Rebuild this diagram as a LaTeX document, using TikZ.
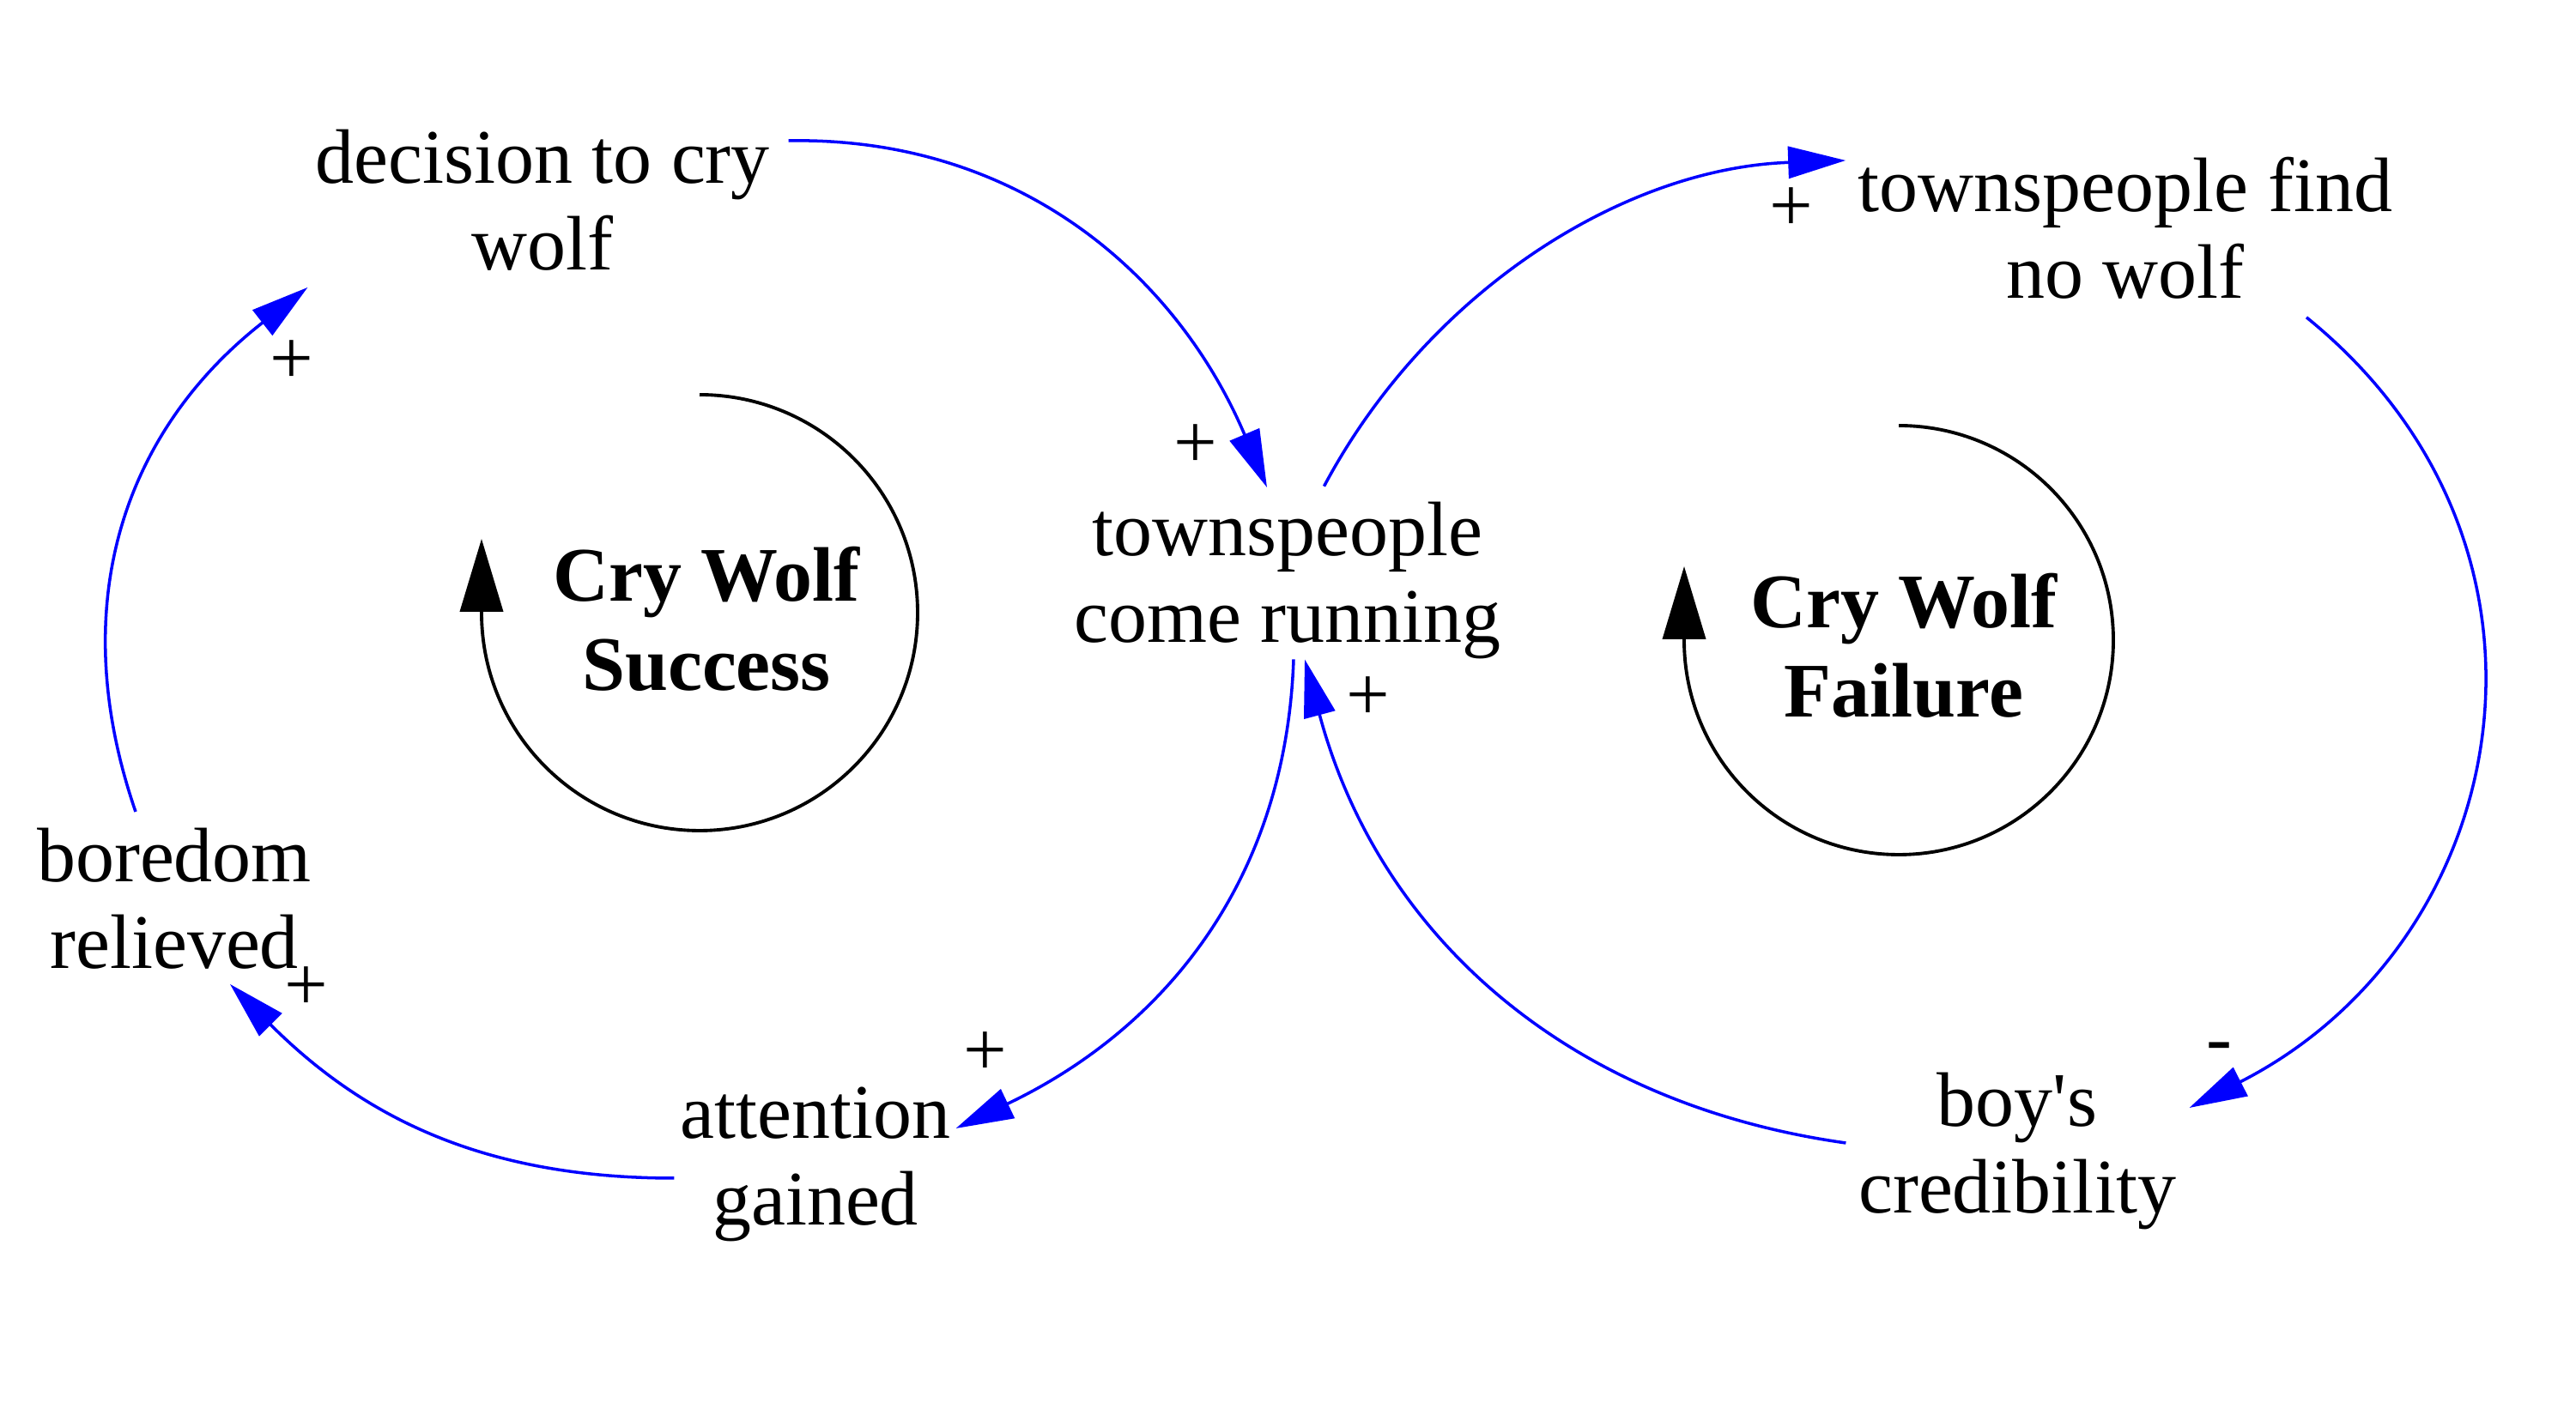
\documentclass[tikz,border=0pt]{standalone}
\usepackage{fontspec}
\setmainfont{Liberation Serif}
\usetikzlibrary{arrows.meta}

\tikzset{
    var/.style={font=\fontsize{25.6}{28.8}\selectfont, align=center, inner sep=0pt, anchor=north},
    pol/.style={font=\fontsize{25.6}{28.8}\selectfont, inner sep=0pt},
    lnk/.style={blue, line width=1pt, -{Triangle[length=0.67cm,width=0.37cm]}},
    lp/.style={black, line width=1.1pt, -{Triangle[length=0.85cm,width=0.5cm]}}
}

\begin{document}
\begin{tikzpicture}
    \useasboundingbox (0,0) rectangle (30.01,16.49);
    % variables
    \node [var] (dec)  at (6.32,14.99)  {decision to cry\\wolf};
    \node [var] (run)  at (15.00,10.65) {townspeople\\come running};
    \node [var] (find) at (24.76,14.67) {townspeople find\\no wolf};
    \node [var] (bore) at (2.03,6.85)   {boredom\\relieved};
    \node [var] (att)  at (9.50,3.83)   {attention\\gained};
    \node [var] (boy)  at (23.50,4.00)  {boy\textquotesingle s\\credibility};
    % loop names
    \node [var, font=\fontsize{25.6}{29.6}\selectfont\bfseries] (succ) at (8.23,10.13) {Cry Wolf\\Success};
    \node [var, font=\fontsize{25.6}{29.6}\selectfont\bfseries] (fail) at (22.18,9.82) {Cry Wolf\\Failure};
    \draw [lp] (8.15,11.89) arc [start angle=90, end angle=-180, radius=2.54] -- ++(0,0.86);
    \draw [lp] (22.12,11.53) arc [start angle=90, end angle=-180, radius=2.50] -- ++(0,0.86);
    % links
    \draw [lnk] ([shift={(0.21,-0.14)}]dec.north east) to [out=1, in=113] ([shift={(-0.24,0.16)}]run.north);
    \draw [lnk] ([shift={(0.425,0.173)}]run.north) to [out=62, in=182, looseness=0.92] ([shift={(-0.14,-0.05)}]find.north west);
    \draw [lnk] ([shift={(2.11,-0.21)}]find.south) to [out=-39, in=27, looseness=1.17] ([shift={(0.15,-0.42)}]boy.north east);
    \draw [lnk] ([shift={(-0.14,-0.83)}]boy.north west) to [out=172, in=-75] ([xshift=0.20cm]run.south);
    \draw [lnk] ([xshift=0.07cm]run.south) to [out=-92, in=25.5] ([shift={(0.055,-0.49)}]att.north east);
    \draw [lnk] ([shift={(-0.065,-1.07)}]att.north west) to [out=180, in=-45] ([shift={(0.65,-0.17)}]bore.south);
    \draw [lnk] ([shift={(-0.45,0.18)}]bore.north) to [out=109, in=218, looseness=1.05] ([shift={(-0.08,-0.19)}]dec.south west);
    % polarities
    \node [pol] (p1) at (3.40,12.27)  {+};
    \node [pol] (p2) at (13.93,11.29) {+};
    \node [pol] (p3) at (20.87,14.05) {+};
    \node [pol] (p4) at (15.94,8.35)  {+};
    \node [pol] (p5) at (3.57,4.97)   {+};
    \node [pol] (p6) at (11.48,4.21)  {+};
    \node [pol] (p7) at (25.85,4.22)  {-};
\end{tikzpicture}
\end{document}
